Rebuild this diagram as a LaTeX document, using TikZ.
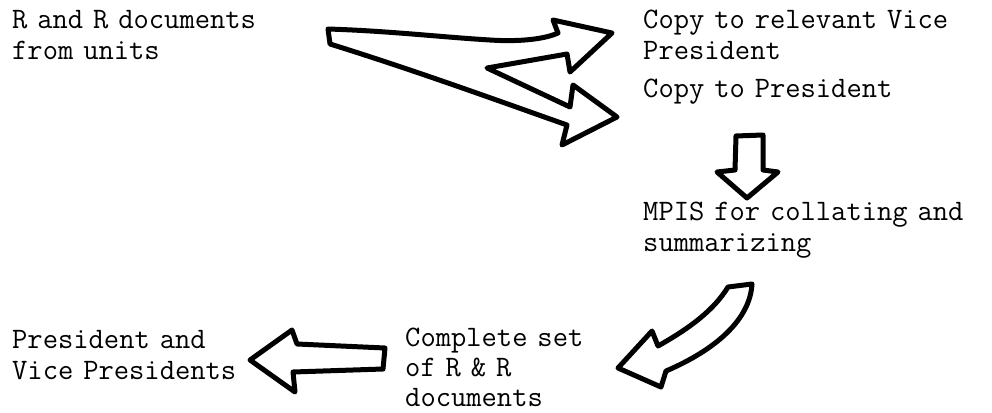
\documentclass[tikz,border=0pt]{standalone}
\usepackage{fontspec}
\begin{document}
\begin{tikzpicture}[x=1pt,y=-1pt,
  lbl/.style={anchor=base west,inner sep=0pt,align=left,text width=400pt,
    font=\ttfamily\fontsize{29.7}{31}\selectfont},
  blockarrow/.style={draw=black,line width=5pt,line join=round,line cap=round,fill=white}]
\useasboundingbox[fill=white] (0,0) rectangle (992,412);

\node[lbl] (src) at (12,29) {R and R documents\\from units};
\node[lbl] (vp) at (643,29) {Copy to relevant Vice\\President};
\node[lbl] (pres) at (643,97) {Copy to President};
\node[lbl] (mpis) at (643,220) {MPIS for collating and\\summarizing};
\node[lbl,font=\ttfamily\fontsize{29.7}{30}\selectfont] (compl) at (405,346) {Complete set\\of R \& R\\documents};
\node[lbl] (pvp) at (12,348) {President and\\Vice Presidents};

% forked arrow from source to the two copies
\draw[blockarrow] (328,29) .. controls (390,31) and (440,37) .. (490,40)
  .. controls (520,42) and (545,39) .. (558,33)
  -- (553,20) -- (612,33) -- (570,72) -- (567,54) -- (487,68) -- (570,107)
  -- (573,85) -- (617,117) -- (562,145) -- (567,125)
  .. controls (510,105) and (420,72) .. (330,44) -- cycle;

% down arrow
\draw[blockarrow] (736,136) -- (763,135) -- (763,170) -- (778,172) -- (747,198)
  -- (717,172) -- (735,170) -- cycle;

% curved arrow
\draw[blockarrow] (728,287) -- (752,284) .. controls (750,320) and (715,350) .. (666,371)
  -- (661,387) -- (618,368) -- (652,331) -- (658,346)
  .. controls (690,328) and (714,310) .. cycle;

% left arrow
\draw[blockarrow] (385,348) -- (383,369) -- (293,372) -- (295,392) -- (250,360)
  -- (292,330) -- (297,344) -- cycle;
\end{tikzpicture}
\end{document}
